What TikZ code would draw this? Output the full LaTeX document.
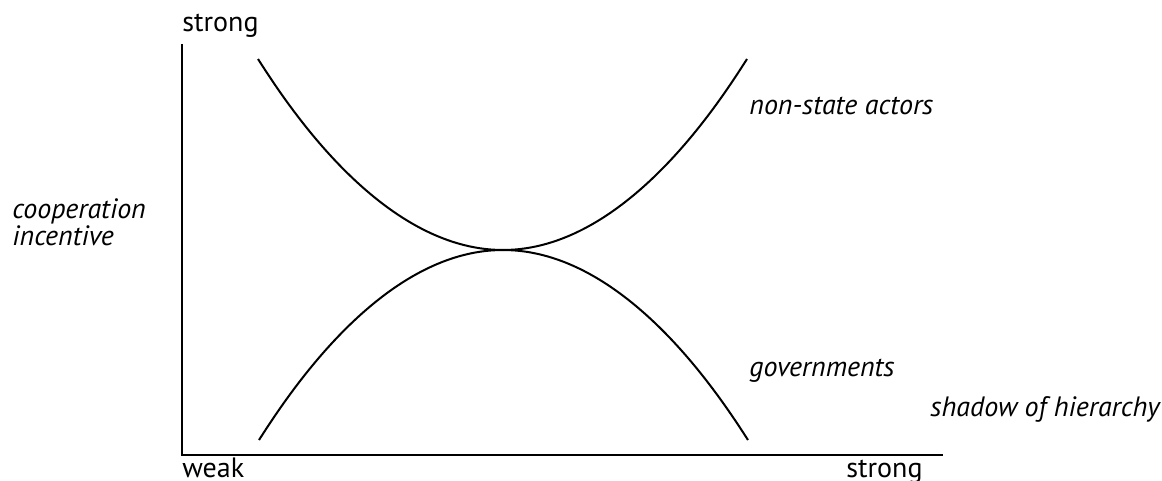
\documentclass[tikz,border=0pt]{standalone}
\usepackage{fontspec}
\setmainfont{PT Sans}
\usepackage{tikz}

\begin{document}
\begin{tikzpicture}[
x=0.5pt, y=-0.5pt,
every node/.style={font=\fontsize{14}{13.5}\selectfont, inner sep=0pt},
axislabel/.style={anchor=base west},
curvelabel/.style={anchor=base west, font=\fontsize{14}{13.5}\selectfont\itshape},
axisline/.style={line width=1.3pt},
curveline/.style={line width=1pt}
]
\useasboundingbox (0,0) rectangle (1162,481);

% axes
\coordinate (origin) at (182,455);
\coordinate (ytop) at (182,44);
\coordinate (xend) at (943,455);
\draw[axisline] (ytop) -- (origin) -- (xend);

% curves
\coordinate (nsleft) at (258,59);
\coordinate (nsright) at (747,59);
\coordinate (govleft) at (259,440);
\coordinate (govright) at (748,440);
\coordinate (meet) at (503,250);
\draw[curveline] (nsleft) parabola bend (meet) (nsright);
\draw[curveline] (govleft) parabola bend (meet) (govright);

% labels
\node[axislabel] (ystrong) at (182,32) {strong};
\node[curvelabel, align=left] (ylabel) at (12,245) {cooperation\\incentive};
\node[axislabel] (xweak) at (182,477) {weak};
\node[axislabel] (xstrong) at (846,477) {strong};
\node[curvelabel] (xlabel) at (930,416) {shadow of hierarchy};
\node[curvelabel] (nonstate) at (749,115) {non-state actors};
\node[curvelabel] (govs) at (749,376) {governments};

\end{tikzpicture}
\end{document}
